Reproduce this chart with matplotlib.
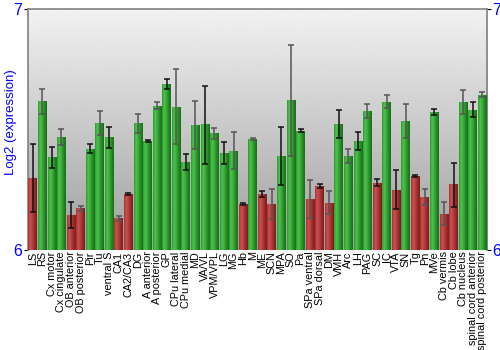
import numpy as np
import matplotlib
matplotlib.use('Agg')
import matplotlib.pyplot as plt
from matplotlib.colors import LinearSegmentedColormap

plt.rcParams['font.family'] = ['Liberation Sans', 'DejaVu Sans']

# ==========================================
# Data
# ==========================================
regions = ['LS', 'RS', 'Cx motor', 'Cx cingulate', 'OB anterior', 'OB posterior',
           'Pir', 'Tu', 'ventral S', 'CA1', 'CA2/CA3', 'DG', 'A anterior',
           'A posterior', 'GP', 'CPu lateral', 'CPu medial', 'MD', 'VA/VL',
           'VPM/VPL', 'LG', 'MG', 'Hb', 'M', 'ME', 'SCN', 'MPA', 'SO', 'Pa',
           'SPa ventral', 'SPa dorsal', 'DM', 'VMH', 'Arc', 'LH', 'PAG', 'SC',
           'IC', 'VTA', 'SN', 'Tg', 'Pn', 'MVe', 'Cb vermis', 'Cb lobe',
           'Cb nucleus', 'spinal cord anterior', 'spinal cord posterior']

values = [6.299, 6.618, 6.386, 6.469, 6.145, 6.174, 6.419, 6.527, 6.469, 6.133,
          6.232, 6.527, 6.452, 6.598, 6.689, 6.595, 6.365, 6.519, 6.523, 6.485,
          6.402, 6.411, 6.191, 6.461, 6.232, 6.191, 6.390, 6.622, 6.494, 6.212,
          6.266, 6.195, 6.523, 6.390, 6.452, 6.577, 6.278, 6.614, 6.249, 6.535,
          6.307, 6.220, 6.573, 6.149, 6.274, 6.614, 6.581, 6.643]

err_low = [6.158, 6.564, 6.340, 6.436, 6.091, 6.162, 6.402, 6.477, 6.423, 6.120,
           6.228, 6.486, 6.448, 6.585, 6.668, 6.440, 6.332, 6.420, 6.357, 6.461,
           6.357, 6.336, 6.187, 6.456, 6.220, 6.129, 6.270, 6.390, 6.490, 6.133,
           6.257, 6.149, 6.465, 6.363, 6.415, 6.548, 6.266, 6.589, 6.170, 6.465,
           6.303, 6.187, 6.560, 6.104, 6.178, 6.564, 6.552, 6.633]

err_high = [6.438, 6.668, 6.427, 6.502, 6.199, 6.183, 6.440, 6.577, 6.510, 6.141,
            6.236, 6.564, 6.456, 6.614, 6.710, 6.751, 6.398, 6.618, 6.680, 6.508,
            6.448, 6.490, 6.195, 6.465, 6.245, 6.253, 6.510, 6.851, 6.502, 6.290,
            6.274, 6.245, 6.581, 6.419, 6.490, 6.606, 6.295, 6.643, 6.332, 6.606,
            6.311, 6.253, 6.585, 6.199, 6.361, 6.664, 6.614, 6.656]

# red = below-threshold region, green = above
is_red = [True, False, False, False, True, True, False, False, False, True,
          True, False, False, False, False, False, False, False, False, False,
          False, False, True, False, True, True, False, False, False, True,
          True, True, False, False, False, False, True, False, True, False,
          True, True, False, True, True, False, False, False]

ymin, ymax = 6, 7

# ==========================================
# Plot
# ==========================================
fig = plt.figure(figsize=(5, 3.5), dpi=100)
ax = fig.add_axes([0.056, 0.2857, 0.918, 0.6886])

x = np.arange(len(regions))

# gray background gradient
bg = np.linspace(0.62, 0.95, 256).reshape(-1, 1)
ax.imshow(bg, cmap='gray', vmin=0, vmax=1, origin='lower', aspect='auto',
          extent=[0, 1, 0, 1], transform=ax.transAxes, zorder=0)

green_cmap = LinearSegmentedColormap.from_list(
    'g', ['#2e9a2e', '#4fc24f', '#3aaa3a', '#238a23', '#1a6e1a'])
red_cmap = LinearSegmentedColormap.from_list(
    'r', ['#a83232', '#c85252', '#b83e3e', '#9a2a2a', '#7a1e1e'])
grad = np.linspace(0, 1, 64).reshape(1, -1)

bars = ax.bar(x, np.array(values) - ymin, bottom=ymin, width=0.92,
              color=['#b33' if r else '#3a3' for r in is_red],
              edgecolor='none', zorder=2)
for i, b in enumerate(bars):
    x0 = b.get_x()
    im = ax.imshow(grad, cmap=red_cmap if is_red[i] else green_cmap,
                   aspect='auto', extent=[x0, x0 + b.get_width(), ymin, values[i]],
                   zorder=3)
    im.set_clip_path(b)

# error bars, alternating black / gray
for i in range(len(regions)):
    c = '#555555' if i % 2 else '#111111'
    ax.errorbar(x[i], values[i],
                yerr=[[values[i] - err_low[i]], [err_high[i] - values[i]]],
                fmt='none', ecolor=c, elinewidth=1.1, capsize=2.5,
                capthick=1.1, zorder=4)

ax.set_xlim(-0.5, len(regions) - 0.5)
ax.set_ylim(ymin, ymax)

ax.set_xticks(x)
ax.set_xticklabels(regions, rotation=90, fontsize=7.8, va='top')
ax.tick_params(axis='x', length=0, pad=1)

ax.set_yticks([6, 7])
ax.tick_params(axis='y', labelcolor='blue', labelsize=11.5, length=3,
               left=True, right=True, labelleft=True, labelright=True, pad=1)
ax.set_ylabel('Log2 (expression)', color='blue', fontsize=9.5, va='top')
ax.yaxis.set_label_coords(-0.05, 0.53)

for s in ['left', 'right', 'top']:
    ax.spines[s].set_color('#808080')
    ax.spines[s].set_linewidth(1.2)
ax.spines['bottom'].set_visible(False)

fig.savefig('out.png', dpi=100)
